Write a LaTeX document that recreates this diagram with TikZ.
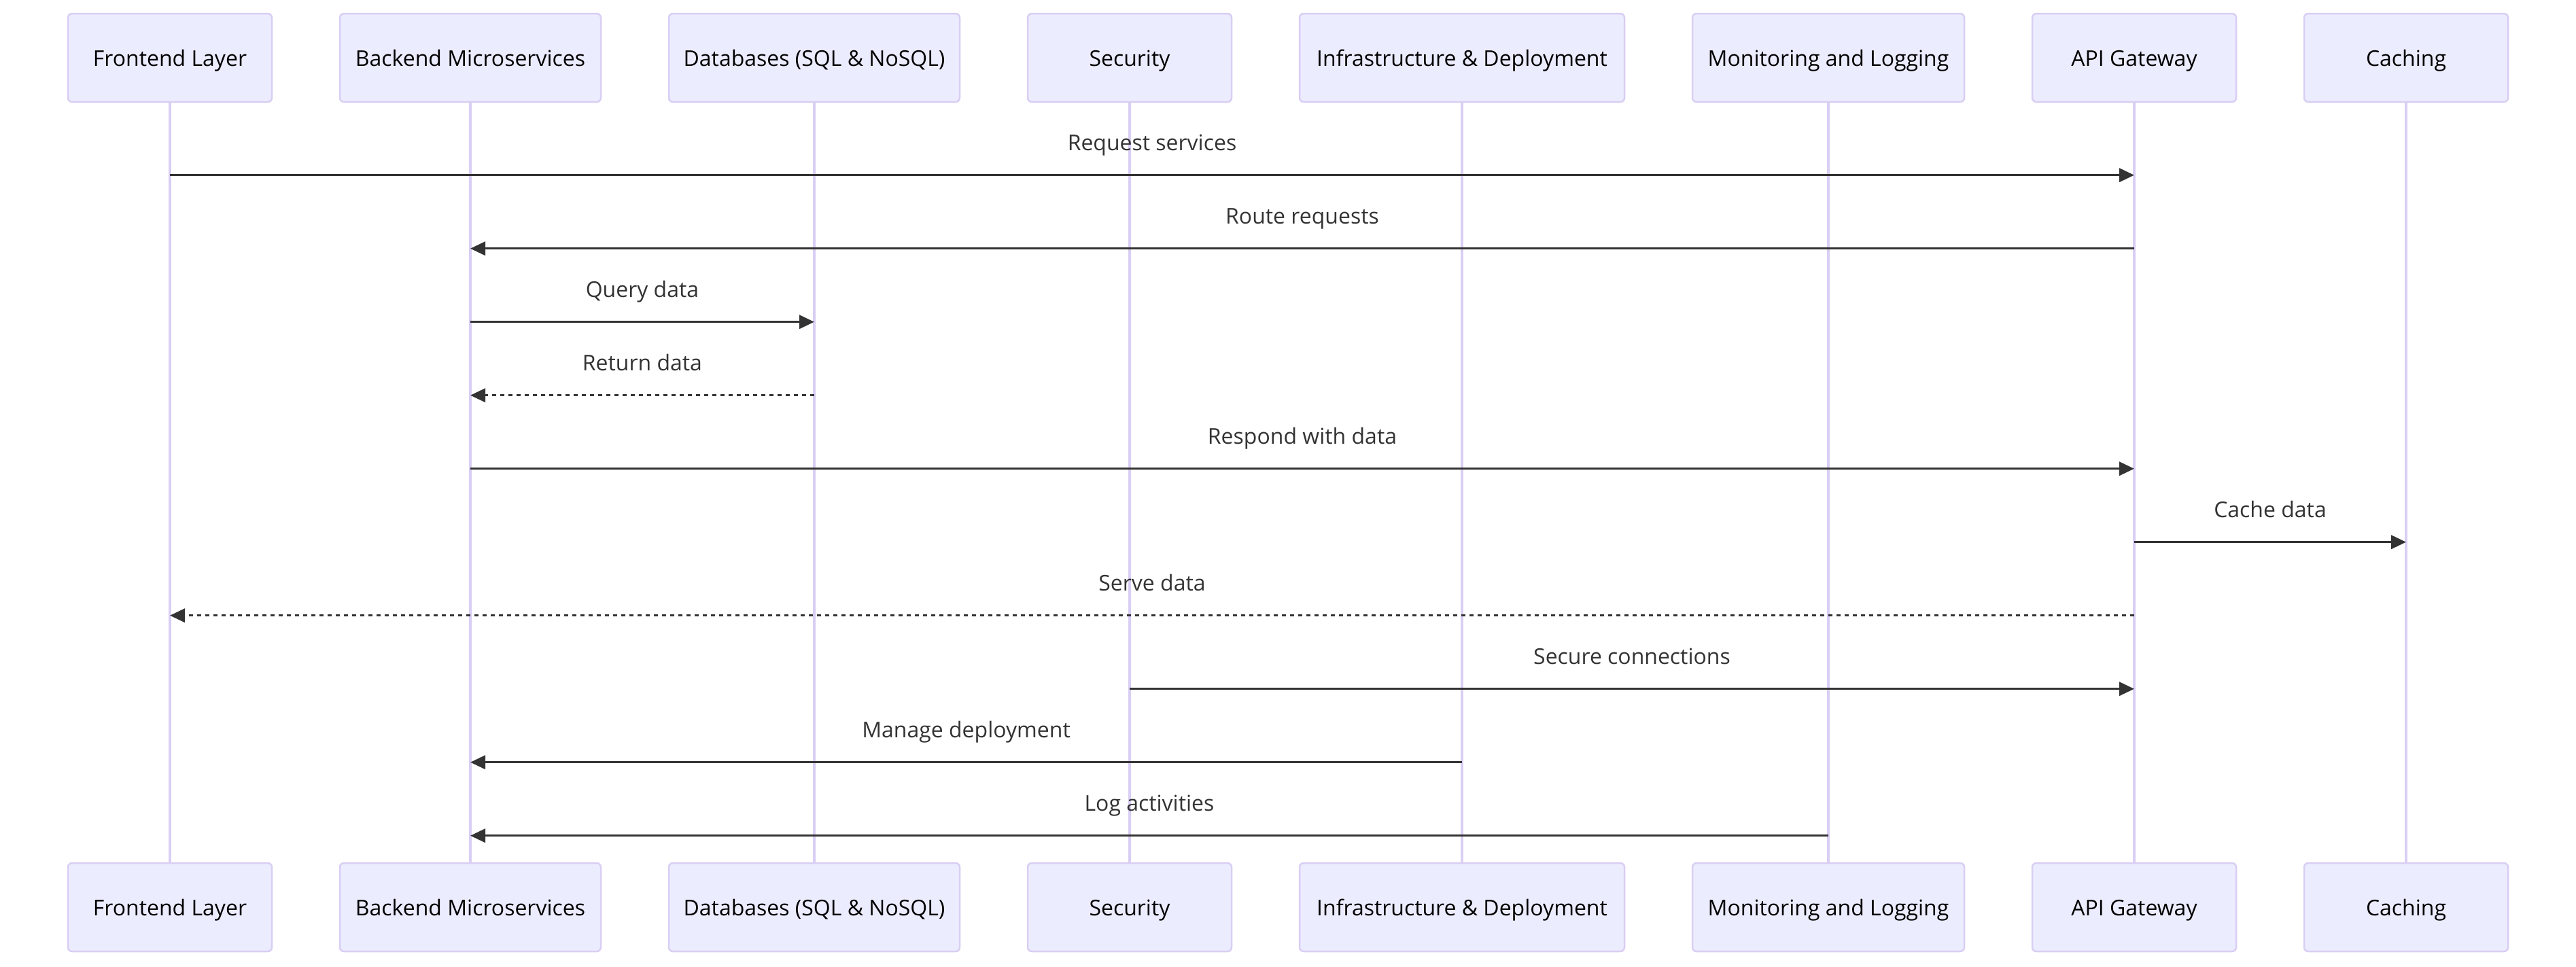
\documentclass[tikz,border=0pt]{standalone}
\usepackage{fontspec}
\setmainfont{Open Sans}
\usepackage{xcolor}
\usetikzlibrary{arrows.meta,positioning}
\definecolor{actorfill}{HTML}{ECECFF}
\definecolor{actorline}{HTML}{D9CEF3}
\definecolor{msgline}{HTML}{333333}
\tikzset{
  actorbox/.style  = {draw=actorline, fill=actorfill, line width=0.025cm, rounded corners=0.06cm,
                      minimum height=1.3cm, inner sep=0pt, outer sep=0pt,
                      text height=0.24cm, text depth=0pt, font=\fontsize{9.1pt}{11pt}\selectfont},
  lifeline/.style  = {actorline, line width=0.035cm},
  msgedge/.style   = {msgline, line width=0.035cm, -{Triangle[length=0.22cm,width=0.2cm]}},
  replyedge/.style = {msgedge, dash pattern=on 0.06cm off 0.06cm},
  msglabel/.style  = {anchor=base, yshift=0.36cm, inner sep=0pt, text=msgline,
                      font=\fontsize{9.1pt}{11pt}\selectfont},
}

\begin{document}
\begin{tikzpicture}[node distance=1cm]
    \useasboundingbox (0,0) rectangle (37.90,-14.22);
    % actors, top row
    \node [actorbox, minimum width=3.00cm] (fe) at (2.50,-0.85) {Frontend Layer};
    \node [actorbox, minimum width=3.84cm, right=of fe] (be) {Backend Microservices};
    \node [actorbox, minimum width=4.28cm, right=of be] (db) {Databases (SQL \& NoSQL)};
    \node [actorbox, minimum width=3.00cm, right=of db] (sec) {Security};
    \node [actorbox, minimum width=4.78cm, right=of sec] (inf) {Infrastructure \& Deployment};
    \node [actorbox, minimum width=4.00cm, right=of inf] (mon) {Monitoring and Logging};
    \node [actorbox, minimum width=3.00cm, right=of mon] (api) {API Gateway};
    \node [actorbox, minimum width=3.00cm, right=of api] (ca) {Caching};

    % actors, bottom row
    \node [actorbox, minimum width=3.00cm, below=11.2cm of fe] (fe-b) {Frontend Layer};
    \node [actorbox, minimum width=3.84cm, below=11.2cm of be] (be-b) {Backend Microservices};
    \node [actorbox, minimum width=4.28cm, below=11.2cm of db] (db-b) {Databases (SQL \& NoSQL)};
    \node [actorbox, minimum width=3.00cm, below=11.2cm of sec] (sec-b) {Security};
    \node [actorbox, minimum width=4.78cm, below=11.2cm of inf] (inf-b) {Infrastructure \& Deployment};
    \node [actorbox, minimum width=4.00cm, below=11.2cm of mon] (mon-b) {Monitoring and Logging};
    \node [actorbox, minimum width=3.00cm, below=11.2cm of api] (api-b) {API Gateway};
    \node [actorbox, minimum width=3.00cm, below=11.2cm of ca] (ca-b) {Caching};

    % lifelines
    \foreach \a in {fe,be,db,sec,inf,mon,api,ca}
        \draw [lifeline] (\a.south) -- (\a-b.north);

    % message rows
    \coordinate (r1) at (0,-2.577);
    \coordinate (r2) at (0,-3.657);
    \coordinate (r3) at (0,-4.737);
    \coordinate (r4) at (0,-5.817);
    \coordinate (r5) at (0,-6.897);
    \coordinate (r6) at (0,-7.977);
    \coordinate (r7) at (0,-9.057);
    \coordinate (r8) at (0,-10.137);
    \coordinate (r9) at (0,-11.217);
    \coordinate (r10) at (0,-12.297);

    \draw [msgedge] (fe |- r1) -- node [msglabel] {Request services} (api |- r1);
    \draw [msgedge] (api |- r2) -- node [msglabel] {Route requests} (be |- r2);
    \draw [msgedge] (be |- r3) -- node [msglabel] {Query data} (db |- r3);
    \draw [replyedge] (db |- r4) -- node [msglabel] {Return data} (be |- r4);
    \draw [msgedge] (be |- r5) -- node [msglabel] {Respond with data} (api |- r5);
    \draw [msgedge] (api |- r6) -- node [msglabel] {Cache data} (ca |- r6);
    \draw [replyedge] (api |- r7) -- node [msglabel] {Serve data} (fe |- r7);
    \draw [msgedge] (sec |- r8) -- node [msglabel] {Secure connections} (api |- r8);
    \draw [msgedge] (inf |- r9) -- node [msglabel] {Manage deployment} (be |- r9);
    \draw [msgedge] (mon |- r10) -- node [msglabel] {Log activities} (be |- r10);
\end{tikzpicture}
\end{document}
